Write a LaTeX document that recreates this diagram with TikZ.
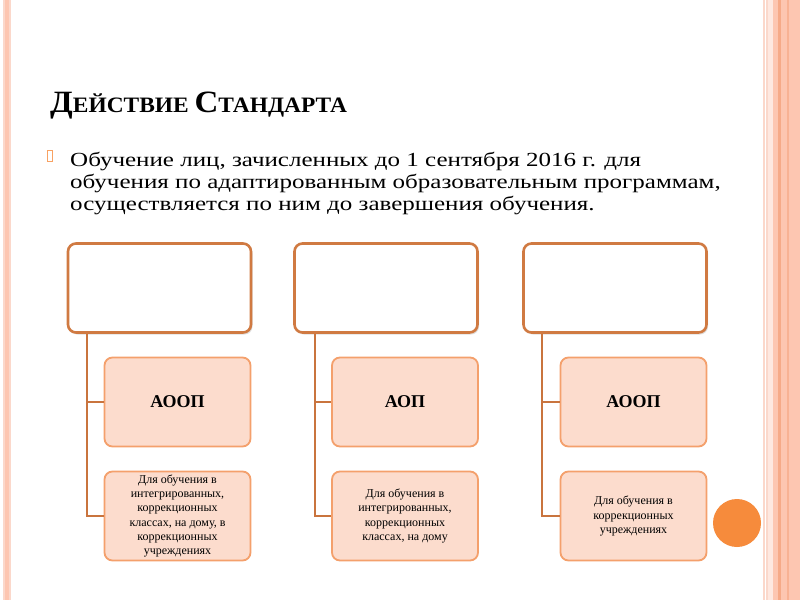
\documentclass[tikz,border=0pt]{standalone}
\usepackage{fontspec}
\setmainfont{Liberation Serif}
\newfontfamily\bodyfont{Liberation Serif}[FakeStretch=1.25]
\newfontfamily\titlefont{Liberation Serif}[FakeStretch=1.065]
\usetikzlibrary{shadows}
\definecolor{topborder}{HTML}{D07A42}
\definecolor{subborder}{HTML}{F4A06C}
\definecolor{subfill}{HTML}{FCDCCD}
\definecolor{connector}{HTML}{C9743E}
\definecolor{stripe}{HTML}{FDC6B1}
\definecolor{stripedark}{HTML}{F6AA88}
\definecolor{stripelight}{HTML}{FBD8CB}
\definecolor{dotcol}{HTML}{F68B3C}
\tikzset{
  topbox/.style={draw=topborder, line width=2.6pt, fill=white, rounded corners=8pt,
    drop shadow={shadow xshift=1.5pt, shadow yshift=-2pt, opacity=0.25}},
  subbox/.style={draw=subborder, line width=1.8pt, fill=subfill, rounded corners=8pt},
  conn/.style={draw=connector, line width=2.2pt},
  subhead/.style={font=\fontsize{18}{20}\selectfont\bfseries, align=center},
  subtext/.style={font=\fontsize{12}{14.2}\selectfont, align=center},
  bodyline/.style={font=\bodyfont\fontsize{20}{22}\selectfont, anchor=base west, inner sep=0pt},
}
\begin{document}
\begin{tikzpicture}[x=1pt,y=-1pt]
\useasboundingbox (0,0) rectangle (800,600);
\fill[white] (0,0) rectangle (800,600);
% left border stripe
\fill[stripelight] (3,0) rectangle (11,600);
\fill[stripe] (5,0) rectangle (9,600);
% right border stripes
\fill[stripelight] (763,0) rectangle (765,600);
\fill[stripelight] (766,0) rectangle (767.5,600);
\fill[stripe!40] (768,0) rectangle (773,600);
\fill[stripe] (773,0) rectangle (800,600);
\fill[stripedark] (778,0) rectangle (781,600);
\fill[stripedark!70!stripe] (787,0) rectangle (788.5,600);
% title
\node[anchor=base west, inner sep=0pt, font=\titlefont\bfseries] (title) at (50,112)
  {\fontsize{31}{32}\selectfont Д\fontsize{22}{23}\selectfont ЕЙСТВИЕ \fontsize{31}{32}\selectfont С\fontsize{22}{23}\selectfont ТАНДАРТА};
% bullet
\node[draw=dotcol!80, line width=0.8pt, minimum width=5pt, minimum height=11pt, inner sep=0pt] (bullet) at (50,156) {};
% body text
\node[bodyline] (l1) at (70,166) {Обучение лиц, зачисленных до 1 сентября 2016 г. для};
\node[bodyline] (l2) at (70,188) {обучения по адаптированным образовательным программам,};
\node[bodyline] (l3) at (70,210) {осуществляется по ним до завершения обучения.};
% column 1
\node[topbox, minimum width=183pt, minimum height=89pt] (t1) at (159.5,288) {};
\node[subbox, subhead, minimum width=146pt, minimum height=89pt] (a1) at (177.5,402) {АООП};
\node[subbox, subtext, minimum width=146pt, minimum height=89pt] (b1) at (177.5,516)
  {Для обучения в\\интегрированных,\\коррекционных\\классах, на дому, в\\коррекционных\\учреждениях};
% column 2
\node[topbox, minimum width=183pt, minimum height=89pt] (t2) at (386,288) {};
\node[subbox, subhead, minimum width=146pt, minimum height=89pt] (a2) at (405,402) {АОП};
\node[subbox, subtext, minimum width=146pt, minimum height=89pt] (b2) at (405,516)
  {Для обучения в\\интегрированных,\\коррекционных\\классах, на дому};
% column 3
\node[topbox, minimum width=183pt, minimum height=89pt] (t3) at (615,288) {};
\node[subbox, subhead, minimum width=146pt, minimum height=89pt] (a3) at (633.5,402) {АООП};
\node[subbox, subtext, minimum width=146pt, minimum height=89pt] (b3) at (633.5,516)
  {Для обучения в\\коррекционных\\учреждениях};
% connectors
\foreach \i/\xx in {1/87,2/315,3/542}{
  \draw[conn] (t\i.south -| \xx,0) |- (b\i.west);
  \draw[conn] (\xx,0 |- a\i.west) -- (a\i.west);
}
% decorative circle
\fill[dotcol] (737,523) circle (24);
\end{tikzpicture}
\end{document}
